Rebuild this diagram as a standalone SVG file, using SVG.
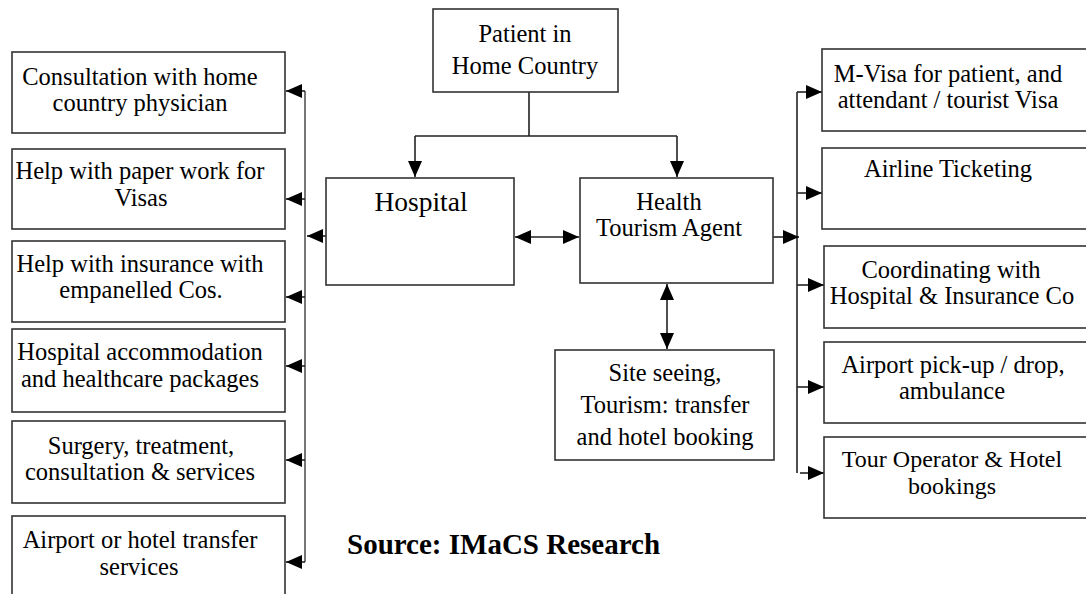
<svg xmlns="http://www.w3.org/2000/svg" width="1086" height="594" viewBox="0 0 1086 594">
<style>
.box{fill:#fff;stroke:#333;stroke-width:1.6}
.t{font-family:"Liberation Serif","Times New Roman",serif;font-size:24.5px;fill:#000;text-anchor:middle}
.big{font-size:27.5px}
.sm{font-size:24px}
.src{font-family:"Liberation Serif","Times New Roman",serif;font-size:29px;font-weight:bold;fill:#000}
.c{fill:none;stroke:#222;stroke-width:1.6}
.g{fill:none;stroke:#777;stroke-width:2}
</style>
<defs>
<marker id="ah" markerUnits="userSpaceOnUse" markerWidth="18" markerHeight="18" viewBox="0 0 18 18" refX="16" refY="9" orient="auto-start-reverse">
<path d="M0,2 L16,9 L0,16 Z" fill="#000"/>
</marker>
</defs>
<rect width="1086" height="594" fill="#fff"/>
<g id="connectors">
<path class="c" d="M529,92 V136 M415,136 H677"/>
<path class="c" d="M415,136 V177" marker-end="url(#ah)"/>
<path class="c" d="M677,136 V177" marker-end="url(#ah)"/>
<path class="c" d="M515,237 H579" marker-start="url(#ah)" marker-end="url(#ah)"/>
<path class="c" d="M667,284 V349" marker-start="url(#ah)" marker-end="url(#ah)"/>
<path class="g" d="M305,91 V562"/>
<path class="c" d="M326,236 H307" marker-end="url(#ah)"/>
<path class="c" d="M305,91 H286" marker-end="url(#ah)"/>
<path class="c" d="M305,199 H286" marker-end="url(#ah)"/>
<path class="c" d="M305,297 H286" marker-end="url(#ah)"/>
<path class="c" d="M305,366 H286" marker-end="url(#ah)"/>
<path class="c" d="M305,460 H286" marker-end="url(#ah)"/>
<path class="c" d="M305,562 H286" marker-end="url(#ah)"/>
<path class="c" d="M797,92 V473"/>
<path class="c" d="M773,237 H799" marker-end="url(#ah)"/>
<path class="c" d="M797,92 H822" marker-end="url(#ah)"/>
<path class="c" d="M797,193 H822" marker-end="url(#ah)"/>
<path class="c" d="M797,285 H824" marker-end="url(#ah)"/>
<path class="c" d="M797,387 H824" marker-end="url(#ah)"/>
<path class="c" d="M800,473 H824" marker-end="url(#ah)"/>
</g>
<g id="patient">
<rect class="box" x="433" y="9" width="185" height="83"/>
<text class="t" x="525" y="42">Patient in</text>
<text class="t" x="525" y="74">Home Country</text>
</g>
<g id="hospital">
<rect class="box" x="326" y="178" width="188" height="107"/>
<text class="t big" x="421" y="211">Hospital</text>
</g>
<g id="agent">
<rect class="box" x="580" y="178" width="193" height="105"/>
<text class="t" x="669" y="210">Health</text>
<text class="t" x="669" y="236">Tourism Agent</text>
</g>
<g id="sightseeing">
<rect class="box" x="555" y="350" width="219" height="110"/>
<text class="t" x="665" y="381">Site seeing,</text>
<text class="t" x="665" y="413">Tourism: transfer</text>
<text class="t" x="665" y="445">and hotel booking</text>
</g>
<g id="l1">
<rect class="box" x="12" y="52" width="273" height="81"/>
<text class="t" x="140" y="85">Consultation with home</text>
<text class="t" x="140" y="111">country physician</text>
</g>
<g id="l2">
<rect class="box" x="12" y="149" width="273" height="80"/>
<text class="t" x="140" y="179">Help with paper work for</text>
<text class="t" x="141" y="206">Visas</text>
</g>
<g id="l3">
<rect class="box" x="12" y="241" width="273" height="81"/>
<text class="t" x="140" y="272">Help with insurance with</text>
<text class="t" x="141" y="298">empanelled Cos.</text>
</g>
<g id="l4">
<rect class="box" x="12" y="329" width="273" height="83"/>
<text class="t" x="140" y="360">Hospital accommodation</text>
<text class="t" x="140" y="387">and healthcare packages</text>
</g>
<g id="l5">
<rect class="box" x="12" y="421" width="273" height="82"/>
<text class="t" x="141" y="454">Surgery, treatment,</text>
<text class="t" x="140" y="480">consultation &amp; services</text>
</g>
<g id="l6">
<rect class="box" x="12" y="516" width="273" height="90"/>
<text class="t" x="140" y="548">Airport or hotel transfer</text>
<text class="t" x="139" y="575">services</text>
</g>
<g id="r1">
<rect class="box" x="822" y="49" width="270" height="82"/>
<text class="t" x="948" y="82">M-Visa for patient, and</text>
<text class="t" x="948" y="108">attendant / tourist Visa</text>
</g>
<g id="r2">
<rect class="box" x="822" y="148" width="270" height="81"/>
<text class="t" x="948" y="177">Airline Ticketing</text>
</g>
<g id="r3">
<rect class="box" x="824" y="246" width="268" height="82"/>
<text class="t" x="951" y="278">Coordinating with</text>
<text class="t" x="952" y="304">Hospital &amp; Insurance Co</text>
</g>
<g id="r4">
<rect class="box" x="824" y="342" width="268" height="81"/>
<text class="t" x="953" y="373">Airport pick-up / drop,</text>
<text class="t" x="952" y="399">ambulance</text>
</g>
<g id="r5">
<rect class="box" x="824" y="437" width="268" height="81"/>
<text class="t sm" x="952" y="467">Tour Operator &amp; Hotel</text>
<text class="t sm" x="952" y="494">bookings</text>
</g>
<text class="src" x="347" y="554">Source: IMaCS Research</text>
</svg>
